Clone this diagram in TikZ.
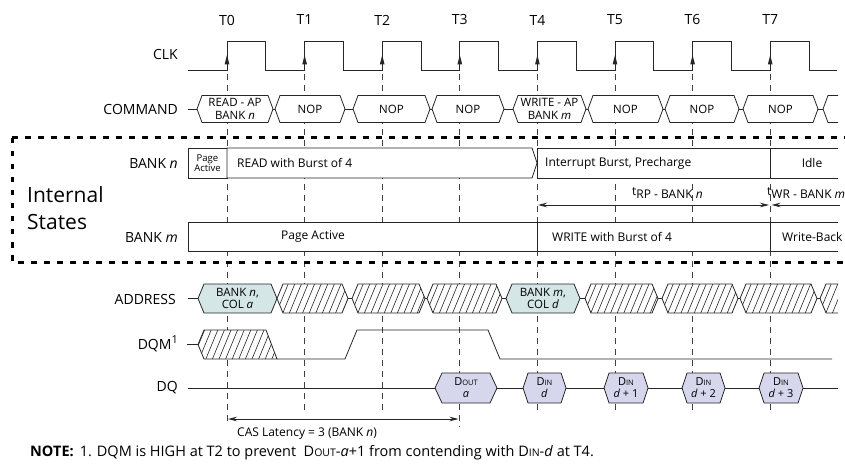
\documentclass[tikz,border=0pt]{standalone}
\usepackage{fontspec}
\setmainfont{Open Sans}
\usetikzlibrary{arrows.meta}
\definecolor{teal1}{RGB}{212,230,230}
\definecolor{lav1}{RGB}{214,214,236}
\newcommand\hexa[5]{(#1,#3) -- ({#1+#5},{#3-#4}) -- ({#2-#5},{#3-#4}) -- (#2,#3) -- ({#2-#5},{#3+#4}) -- ({#1+#5},{#3+#4}) -- cycle}
\newcommand\hatchhex[5]{%
  \fill[white] \hexa{#1}{#2}{#3}{#4}{#5};
  \begin{scope}\clip \hexa{#1}{#2}{#3}{#4}{#5};
    \foreach \k in {0,...,16}{\draw[hatch] ({#1-14+\k*6.6},{#3+#4}) -- ++(12,{-2*#4});}
  \end{scope}
  \draw[sig] \hexa{#1}{#2}{#3}{#4}{#5};}
\newcommand\smc[1]{{\fontsize{7.5}{9}\selectfont #1}}
\begin{document}
\begin{tikzpicture}[x=1pt,y=-1pt,
  sig/.style={line width=0.8pt,draw=black!85},
  hatch/.style={line width=0.6pt,draw=black!85},
  gridline/.style={line width=0.8pt,draw=black!75,dash pattern=on 6pt off 5pt},
  lbl/.style={anchor=east,inner sep=0pt,font=\fontsize{14}{16}\selectfont},
  tlbl/.style={inner sep=0pt,font=\fontsize{14}{16}\selectfont},
  cmdtxt/.style={inner sep=0pt,align=center,font=\fontsize{11.5}{12.5}\selectfont},
  sttxt/.style={inner sep=0pt,font=\fontsize{12}{14}\selectfont},
  tip/.style={-{Stealth[length=9pt,width=4.5pt]}}
  ]
\useasboundingbox (0,0) rectangle (845,470);
% time labels and grid
\foreach \i in {0,...,7}{
  \coordinate (T\i) at ({227+77.6*\i},0);
  \node[tlbl] (tl\i) at ({227+77.6*\i},20) {T\i};
}
\foreach \i in {1,2,4,5,6,7}{\draw[gridline] ({227+77.6*\i},74) -- ({227+77.6*\i},414);}
\draw[gridline] (227,74) -- (227,425);
\draw[gridline] (459.8,74) -- (459.8,427);
% CLK
\node[lbl] (clk) at (178,55) {CLK};
\draw[sig] (188,70) foreach \i in {0,...,7}{ -- ({227+77.6*\i},70) -- ({227+77.6*\i},41) -- ({265.8+77.6*\i},41) -- ({265.8+77.6*\i},70)} -- (837,70);
\foreach \i in {0,...,7}{\fill[black!85] ({227+77.6*\i},55) -- ({224.6+77.6*\i},64.5) -- ({229.4+77.6*\i},64.5) -- cycle;}
% COMMAND
\node[lbl] (cmd) at (178,109) {COMMAND};
\draw[sig] (188,109) -- (823,109);
\foreach \l/\r in {197/273,275/345,353/430,432/504,513/586,588/663,665/739,743/818}{
  \filldraw[sig,fill=white] \hexa{\l}{\r}{109}{13.5}{5};}
\fill[white] (823,109) -- (828,95.5) -- (838,95.5) -- (838,122.5) -- (828,122.5) -- cycle;
\draw[sig] (838,95.5) -- (828,95.5) -- (823,109) -- (828,122.5) -- (838,122.5);
\node[cmdtxt] (c0) at (235,109) {READ - AP\\BANK \textit{n}};
\node[cmdtxt] (c1) at (310,109) {NOP};
\node[cmdtxt] (c2) at (391.5,109) {NOP};
\node[cmdtxt] (c3) at (468,109) {NOP};
\node[cmdtxt] (c4) at (549.5,109) {WRITE - AP\\BANK \textit{m}};
\node[cmdtxt] (c5) at (625.5,109) {NOP};
\node[cmdtxt] (c6) at (702,109) {NOP};
\node[cmdtxt] (c7) at (780.5,109) {NOP};
% Internal states border
\draw[line width=3pt,dash pattern=on 5.5pt off 7.5pt] (12,138) -- (850,138);
\draw[line width=3pt,dash pattern=on 5.5pt off 7.5pt] (12,138) -- (12,262) -- (850,262);
\node[inner sep=0pt,anchor=west,align=left,font=\fontsize{21}{27}\selectfont] (is) at (27,208) {Internal\\States};
% BANK n
\node[lbl] (bn) at (178,163) {BANK \textit{n}};
\filldraw[sig,fill=white] (188,148) rectangle (227,178);
\filldraw[sig,fill=white] (227,148) -- (532,148) -- (537,163) -- (532,178) -- (227,178) -- cycle;
\filldraw[sig,fill=white] (537,148) rectangle (770,178);
\fill[white] (770,148) rectangle (838,178);
\draw[sig] (838,148) -- (770,148) -- (770,178) -- (838,178);
\node[inner sep=0pt,align=center,font=\fontsize{9.5}{10}\selectfont] (pa1) at (207.5,163) {Page\\Active};
\node[sttxt,anchor=west] (rd) at (237,163) {READ with Burst of 4};
\node[sttxt,anchor=west] (ib) at (545,163) {Interrupt Burst, Precharge};
\node[sttxt] (idle) at (812,163) {Idle};
% timing arrows
\coordinate (rpa) at (538,205);
\coordinate (rpb) at (769,205);
\coordinate (wra) at (771.5,205);
\coordinate (wrb) at (840,205);
\draw[sig,{Stealth[length=9pt,width=4.5pt]}-{Stealth[length=9pt,width=4.5pt]}] (rpa) -- (rpb);
\draw[sig,{Stealth[length=9pt,width=4.5pt]}-] (wra) -- (wrb);
\node[sttxt,anchor=west] (trp) at (632,193) {t\raisebox{-3pt}{RP - BANK \textit{n}}};
\node[sttxt,anchor=west] (twr) at (767,193) {t\raisebox{-3pt}{WR - BANK \textit{m}}};
% BANK m
\node[lbl] (bm) at (178,237) {BANK \textit{m}};
\filldraw[sig,fill=white] (188,222) rectangle (537,251);
\filldraw[sig,fill=white] (537,222) rectangle (770,251);
\fill[white] (770,222) rectangle (838,251);
\draw[sig] (838,222) -- (770,222) -- (770,251) -- (838,251);
\node[sttxt] (pa2) at (313,236.5) {Page Active};
\node[sttxt,anchor=west] (wb4) at (552,236.5) {WRITE with Burst of 4};
\node[sttxt,anchor=west] (wbk) at (782,236.5) {Write-Back};
% ADDRESS
\node[lbl] (addr) at (176,299) {ADDRESS};
\draw[sig] (188,298.5) -- (820,298.5);
\filldraw[sig,fill=teal1] \hexa{198}{277}{298.5}{14.5}{6};
\filldraw[sig,fill=teal1] \hexa{506}{580}{298.5}{14.5}{6};
\hatchhex{277}{348}{298.5}{14.5}{6}
\hatchhex{352}{425}{298.5}{14.5}{6}
\hatchhex{427}{502}{298.5}{14.5}{6}
\hatchhex{585}{658}{298.5}{14.5}{6}
\hatchhex{662}{738}{298.5}{14.5}{6}
\hatchhex{740}{817}{298.5}{14.5}{6}
\fill[white] (820,298.5) -- (826,284) -- (838,284) -- (838,313) -- (826,313) -- cycle;
\begin{scope}
  \clip (820,298.5) -- (826,284) -- (838,284) -- (838,313) -- (826,313) -- cycle;
  \foreach \k in {0,...,4}{\draw[hatch] ({806+\k*6.6},313) -- ++(12,-29);}
\end{scope}
\draw[sig] (838,284) -- (826,284) -- (820,298.5) -- (826,313) -- (838,313);
\node[cmdtxt] (a0) at (237.5,298.5) {BANK \textit{n},\\COL \textit{a}};
\node[cmdtxt] (a4) at (543,298.5) {BANK \textit{m},\\COL \textit{d}};
% DQM
\node[lbl] (dqm) at (178,344) {DQM\raisebox{6pt}{\fontsize{11}{12}\selectfont 1}};
\draw[sig] (187,344.5) -- (198,344.5);
\fill[white] (198,344.5) -- (204,330) -- (266,330) -- (277,359) -- (204,359) -- cycle;
\begin{scope}
  \clip (198,344.5) -- (204,330) -- (266,330) -- (277,359) -- (204,359) -- cycle;
  \foreach \k in {0,...,14}{\draw[hatch] ({186+\k*6.6},359) -- ++(12,-29);}
\end{scope}
\draw[sig] (198,344.5) -- (204,330) -- (266,330) -- (277,359) -- (204,359) -- cycle;
\draw[sig] (277,359) -- (345,359) -- (357,330) -- (488,330) -- (500,359) -- (832,359);
% DQ
\node[lbl] (dq) at (178,388) {DQ};
\draw[sig] (188,388) -- (838,388);
\filldraw[sig,fill=lav1] \hexa{435}{497}{388}{15}{7};
\filldraw[sig,fill=lav1] \hexa{523}{566}{388}{15}{5};
\filldraw[sig,fill=lav1] \hexa{604}{648}{388}{15}{5};
\filldraw[sig,fill=lav1] \hexa{682}{725}{388}{15}{5};
\filldraw[sig,fill=lav1] \hexa{759}{803}{388}{15}{5};
\node[cmdtxt,font=\fontsize{11}{12}\selectfont] (d0) at (466,388) {D\smc{OUT}\\\textit{a}};
\node[cmdtxt,font=\fontsize{11}{12}\selectfont] (d1) at (544.5,388) {D\smc{IN}\\\textit{d}};
\node[cmdtxt,font=\fontsize{11}{12}\selectfont] (d2) at (626,388) {D\smc{IN}\\\textit{d} + 1};
\node[cmdtxt,font=\fontsize{11}{12}\selectfont] (d3) at (703.5,388) {D\smc{IN}\\\textit{d} + 2};
\node[cmdtxt,font=\fontsize{11}{12}\selectfont] (d4) at (781,388) {D\smc{IN}\\\textit{d} + 3};
% CAS latency
\coordinate (casa) at (228,419);
\coordinate (casb) at (458.5,419);
\draw[sig,{Stealth[length=9pt,width=4.5pt]}-{Stealth[length=9pt,width=4.5pt]}] (casa) -- (casb);
\node[sttxt,anchor=west,font=\fontsize{12}{13}\selectfont] (cas) at (237,434) {CAS Latency = 3 (BANK \textit{n})};
% note
\node[inner sep=0pt,anchor=west,font=\fontsize{14.5}{16}\selectfont] (note) at (30,453) {\textbf{NOTE:}\hspace{6pt}1. DQM is HIGH at T2 to prevent\ \ D{\fontsize{10.5}{11}\selectfont OUT}-\textit{a}+1 from contending with D{\fontsize{10.5}{11}\selectfont IN}-\textit{d} at T4.};
\end{tikzpicture}
\end{document}
